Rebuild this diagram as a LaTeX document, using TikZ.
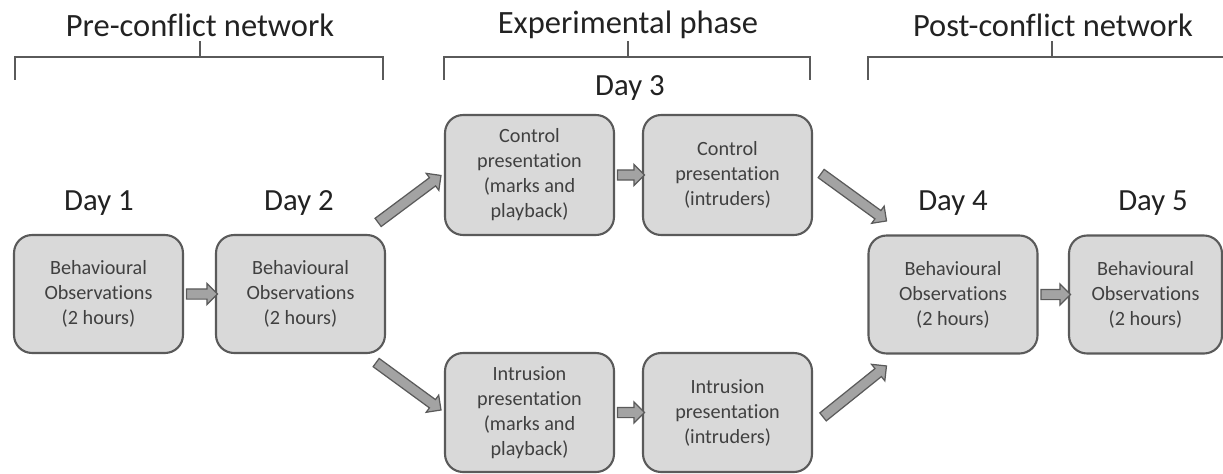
\documentclass[tikz,border=0pt]{standalone}
\usepackage{fontspec}
\setmainfont{Carlito}[RawFeature={-liga;-clig;-calt}]
\usetikzlibrary{calc,shapes.arrows}
\definecolor{dobozszin}{HTML}{D9D9D9}
\definecolor{keretszin}{HTML}{5A5A5A}
\definecolor{nyilszin}{HTML}{A3A3A3}
\definecolor{szovegszin}{HTML}{404040}
\definecolor{cimszin}{HTML}{222222}
\tikzset{
    doboz/.style={draw=keretszin, fill=dobozszin, line width=1.2pt, rounded corners=0.36cm,
        minimum width=3.38cm, minimum height=2.36cm, align=center, text=szovegszin,
        font=\fontsize{11.5}{14.2}\selectfont},
    nap/.style={text=cimszin, font=\fontsize{17.5}{20}\selectfont},
    cim/.style={text=cimszin, font=\fontsize{18.5}{21}\selectfont},
    zarojel/.style={draw=keretszin, line width=1.1pt},
    vastagnyil/.style={single arrow, draw=keretszin, fill=nyilszin, line width=0.7pt,
        inner xsep=0pt, inner ysep=0.09cm, single arrow head extend=0.11cm,
        single arrow tip angle=90}
}
% vastag nyil ket pont kozott
\newcommand{\vastagnyil}[2]{%
    \path let \p1=($(#2)-(#1)$), \n1={atan2(\y1,\x1)}, \n2={veclen(\x1,\y1)} in
        node[vastagnyil, minimum height=\n2, rotate=\n1] at ($(#1)!0.5!(#2)$) {};}

\begin{document}
\begin{tikzpicture}[x=0.02cm, y=-0.02cm]
        % A kep hatarai
        \useasboundingbox (0,0) rectangle (1223,473);
        % Felso feliratok es zarojelek
        \node[cim] (elotte) at (200,25) {Pre-conflict network};
        \node[cim] (kiserlet) at (628,25) {Experimental phase};
        \node[cim] (utana) at (1053,25) {Post-conflict network};
        \draw[zarojel] (15,80) -- (15,57) -- (383,57) -- (383,80) (200,57) -- (200,41);
        \draw[zarojel] (444,80) -- (444,57) -- (810,57) -- (810,80) (628,57) -- (628,41);
        \draw[zarojel] (868,80) -- (868,57) -- (1223,57) (1052,57) -- (1052,41);
        % A napok feliratai
        \node[nap] (nap1) at (99,203) {Day 1};
        \node[nap] (nap2) at (299,203) {Day 2};
        \node[nap] (nap3) at (630,88) {Day 3};
        \node[nap] (nap4) at (953,203) {Day 4};
        \node[nap] (nap5) at (1153,203) {Day 5};
        % A dobozok
        \node[doboz] (d1) at (98.5,294) {Behavioural\\Observations\\(2 hours)};
        \node[doboz] (d2) at (300.5,294) {Behavioural\\Observations\\(2 hours)};
        \node[doboz, minimum height=2.4cm] (k1) at (529.5,175) {Control\\presentation\\(marks and\\playback)};
        \node[doboz, minimum height=2.4cm] (k2) at (727.5,175) {Control\\presentation\\(intruders)};
        \node[doboz, minimum height=2.38cm] (b1) at (529.5,412.5) {Intrusion\\presentation\\(marks and\\playback)};
        \node[doboz, minimum height=2.38cm] (b2) at (727.5,412.5) {Intrusion\\presentation\\(intruders)};
        \node[doboz] (d4) at (953,294.5) {Behavioural\\Observations\\(2 hours)};
        \node[doboz, minimum width=3.06cm] (d5) at (1145.5,294.5) {Behavioural\\Observations\\(2 hours)};
        % A ferde nyilak vegpontjai
        \coordinate (f1a) at ($(d2.north east)+(-10,-10)$);
        \coordinate (f1b) at ($(k1.west)+(-5,2)$);
        \coordinate (f2a) at ($(d2.south east)+(-12,7)$);
        \coordinate (f2b) at ($(b1.west)+(-5,-4)$);
        \coordinate (f3a) at ($(k2.east)+(6,-3)$);
        \coordinate (f3b) at ($(d4.north west)+(17,-15)$);
        \coordinate (f4a) at ($(b2.east)+(8,6)$);
        \coordinate (f4b) at ($(d4.south west)+(17,13)$);
        % Nyilak
        \vastagnyil{d1.east}{d2.west}
        \vastagnyil{k1.east}{k2.west}
        \vastagnyil{b1.east}{b2.west}
        \vastagnyil{d4.east}{d5.west}
        \vastagnyil{f1a}{f1b}
        \vastagnyil{f2a}{f2b}
        \vastagnyil{f3a}{f3b}
        \vastagnyil{f4a}{f4b}
    \end{tikzpicture}
\end{document}
